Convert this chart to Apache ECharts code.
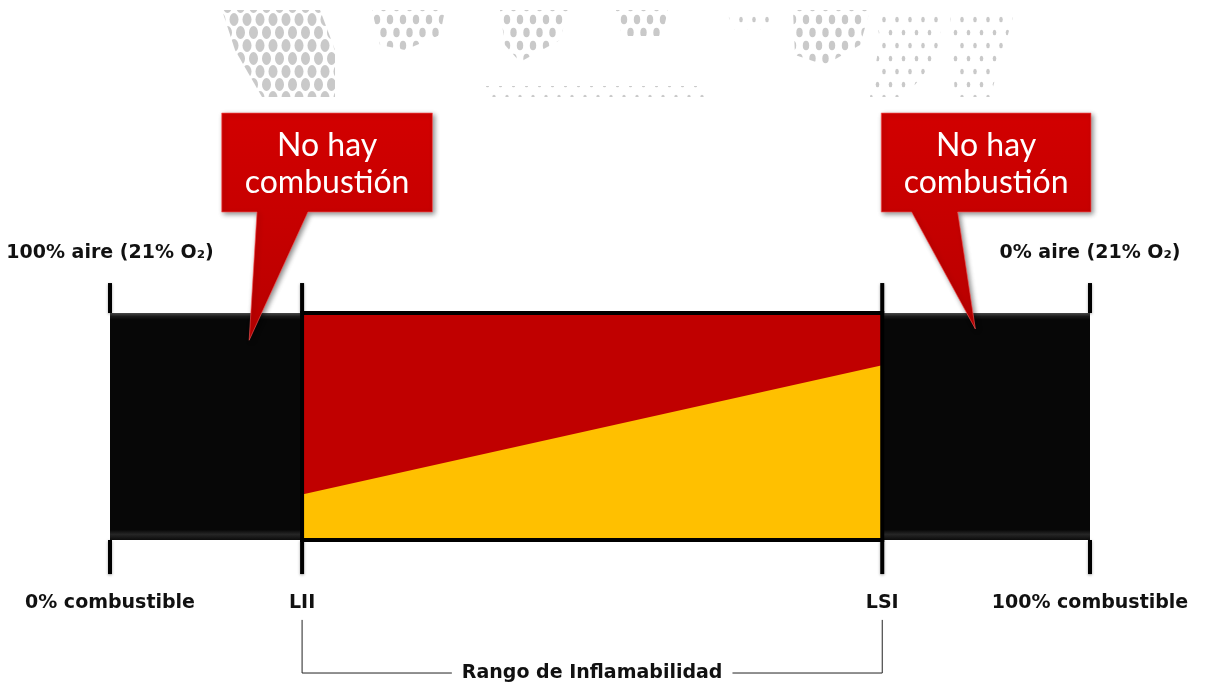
<!DOCTYPE html>
<html><head><meta charset="utf-8">
<script src="https://cdn.jsdelivr.net/npm/echarts@6/dist/echarts.min.js"></script>
<style>html,body{margin:0;padding:0;background:#fff}#c{width:1207px;height:684px}</style>
</head><body><div id="c"></div><script>
// ---- data ----
const tickPositions = [0, 19.6, 78.8, 100];
const tickLabels = ['0% combustible', 'LII', 'LSI', '100% combustible'];
const topLabelPositions = [0, 100];
const topLabels = ['100% aire (21% O₂)', '0% aire (21% O₂)'];
const zoneStart = [0, 19.6, 78.8];
const zoneEnd = [19.6, 78.8, 100];
const zoneKind = ['none', 'range', 'none'];
const flamX = [19.6, 78.8];
const flamY = [0.20, 0.77];
const rangeLabel = 'Rango de Inflamabilidad';
const calloutText = 'No hay\ncombustión';
const calloutTipX = [14.2, 88.3];
const calloutTipY = [0.88, 0.93];

// ---- layout (annotation geometry, data units) ----
const calloutBoxX = [[11.4, 32.9], [78.7, 100.1]];
const calloutBoxY = [1.445, 1.881];
const calloutBase = [[15.0, 20.2], [81.8, 86.5]];
const tickTop = 1.132, tickBottom = -0.15;
const bracketTop = -0.352, bracketBottom = -0.586;

const RED = '#C00000', YELLOW = '#FFC000';

function dotPattern(rx, ry, step) {
  const c = document.createElement('canvas');
  c.width = step; c.height = step * 2;
  const g = c.getContext('2d');
  g.fillStyle = '#c9c9c9';
  const pts = [[step / 2, step / 2], [0, step * 1.5], [step, step * 1.5]];
  pts.forEach(p => { g.beginPath(); g.ellipse(p[0], p[1], rx, ry, 0, 0, Math.PI * 2); g.fill(); });
  return { image: c, repeat: 'repeat' };
}
const pBig = dotPattern(4.5, 6.5, 13), pMid = dotPattern(3.2, 4.8, 13), pSmall = dotPattern(1.8, 2.8, 13);
const clusters = [
  [[[222,10],[320,10],[335,50],[335,97],[262,97],[235,50]], pBig],
  [[[372,10],[445,10],[440,35],[405,50],[380,45]], pMid],
  [[[500,10],[568,10],[560,40],[520,62],[505,45]], pMid],
  [[[616,10],[668,10],[662,36],[622,36]], pMid],
  [[[726,10],[774,10],[768,30],[734,30]], pSmall],
  [[[793,10],[870,10],[860,45],[825,65],[795,55]], pMid],
  [[[875,10],[945,10],[935,60],[905,97],[870,97],[880,40]], pSmall],
  [[[950,10],[1015,10],[990,97],[955,97]], pSmall],
  [[[485,86],[705,86],[705,97],[485,97]], pSmall]
];

const chart = echarts.init(document.getElementById('c'));
const blackGrad = () => new echarts.graphic.LinearGradient(0, 0, 0, 1, [
  { offset: 0, color: '#4a4a4a' }, { offset: 0.015, color: '#1a1a1a' }, { offset: 0.03, color: '#070707' },
  { offset: 0.955, color: '#070707' }, { offset: 0.975, color: '#262626' }, { offset: 1, color: '#0c0c0c' }]);

const txtFont = 'DejaVu Sans';
chart.setOption({
  animation: false,
  backgroundColor: '#fff',
  grid: { left: 110, right: 117, top: 278.95, bottom: 109.95 },
  xAxis: [{
    type: 'value', min: 0, max: 100, position: 'bottom',
    axisLine: { show: false }, axisTick: { show: false }, splitLine: { show: false },
    axisLabel: {
      customValues: tickPositions, margin: 20,
      formatter: v => tickLabels[tickPositions.indexOf(v)],
      fontFamily: txtFont, fontWeight: 'bold', fontSize: 19, color: '#111'
    }
  }, {
    type: 'value', min: 0, max: 100, position: 'top',
    axisLine: { show: false }, axisTick: { show: false }, splitLine: { show: false },
    axisLabel: {
      customValues: topLabelPositions, margin: 16,
      formatter: v => topLabels[topLabelPositions.indexOf(v)],
      fontFamily: txtFont, fontWeight: 'bold', fontSize: 19, color: '#111'
    }
  }],
  yAxis: { type: 'value', min: tickBottom, max: 1.15, show: false, splitLine: { show: false } },
  graphic: clusters.map(c => ({
    type: 'polygon', silent: true, z: 0,
    shape: { points: c[0] }, style: { fill: c[1] }
  })),
  series: [
    { // zones
      type: 'custom', clip: false, z: 2,
      data: zoneStart.map((s, i) => [s, zoneEnd[i], i]),
      renderItem: (params, api) => {
        const i = api.value(2);
        const p0 = api.coord([api.value(0), 1]);
        const p1 = api.coord([api.value(1), 0]);
        return {
          type: 'rect',
          shape: { x: p0[0], y: p0[1], width: p1[0] - p0[0], height: p1[1] - p0[1] },
          style: { fill: zoneKind[i] === 'range' ? RED : blackGrad() }
        };
      }
    },
    { // flammable (yellow) area
      type: 'custom', clip: false, z: 3,
      data: [[flamX[0], flamY[0], flamX[1], flamY[1]]],
      renderItem: (params, api) => {
        const a = api.coord([api.value(0), 0]), b = api.coord([api.value(0), api.value(1)]);
        const c = api.coord([api.value(2), api.value(3)]), d = api.coord([api.value(2), 0]);
        const t0 = api.coord([api.value(0), 1]);
        return {
          type: 'group', children: [
            { type: 'polygon', shape: { points: [a, b, c, d] }, style: { fill: YELLOW } },
            { type: 'rect', shape: { x: t0[0], y: t0[1], width: d[0] - t0[0], height: a[1] - t0[1] },
              style: { fill: 'none', stroke: '#000', lineWidth: 4 } }
          ]
        };
      }
    },
    { // ticks
      type: 'custom', clip: false, z: 4,
      data: tickPositions.map(v => [v]),
      renderItem: (params, api) => {
        const x = api.value(0);
        const a = api.coord([x, tickTop]), b = api.coord([x, 1]);
        const c = api.coord([x, 0]), d = api.coord([x, tickBottom]);
        const st = { stroke: '#000', lineWidth: 4, shadowBlur: 3, shadowColor: 'rgba(0,0,0,0.35)', shadowOffsetY: 1 };
        return { type: 'group', children: [
          { type: 'line', shape: { x1: a[0], y1: a[1], x2: b[0], y2: b[1] }, style: st },
          { type: 'line', shape: { x1: c[0], y1: c[1], x2: d[0], y2: d[1] }, style: st }
        ] };
      }
    },
    { // range bracket
      type: 'custom', clip: false, z: 4,
      data: [[tickPositions[1], tickPositions[2]]],
      renderItem: (params, api) => {
        const l = api.value(0), r = api.value(1);
        const p1 = api.coord([l, bracketTop]), p2 = api.coord([l, bracketBottom]);
        const p3 = api.coord([r, bracketBottom]), p4 = api.coord([r, bracketTop]);
        return { type: 'group', children: [
          { type: 'polyline', shape: { points: [p1, p2, p3, p4] }, style: { stroke: '#222', lineWidth: 1, fill: 'none' } },
          { type: 'text', x: (p2[0] + p3[0]) / 2, y: p2[1],
            style: { text: rangeLabel, fill: '#111', fontFamily: txtFont, fontWeight: 'bold', fontSize: 19,
              align: 'center', verticalAlign: 'middle', backgroundColor: '#fff', padding: [2, 10] } }
        ] };
      }
    },
    { // callouts
      type: 'custom', clip: false, z: 6,
      data: calloutTipX.map((x, i) => [x, calloutTipY[i], i]),
      renderItem: (params, api) => {
        const i = api.value(2);
        const bx = calloutBoxX[i], bb = calloutBase[i];
        const tl = api.coord([bx[0], calloutBoxY[1]]), tr = api.coord([bx[1], calloutBoxY[1]]);
        const br = api.coord([bx[1], calloutBoxY[0]]), bl = api.coord([bx[0], calloutBoxY[0]]);
        const b1 = api.coord([bb[1], calloutBoxY[0]]), b0 = api.coord([bb[0], calloutBoxY[0]]);
        const tip = api.coord([api.value(0), api.value(1)]);
        const fill = new echarts.graphic.LinearGradient(0, 0, 0, 1, [
          { offset: 0, color: '#D20000' }, { offset: 0.5, color: '#C60000' }, { offset: 1, color: '#B80000' }]);
        return { type: 'group', children: [
          { type: 'polygon', shape: { points: [tl, tr, br, b1, tip, b0, bl] },
            style: { fill: fill, stroke: 'rgba(255,90,90,0.6)', lineWidth: 1,
              shadowBlur: 5, shadowColor: 'rgba(0,0,0,0.45)', shadowOffsetX: 2, shadowOffsetY: 2 } },
          { type: 'text', x: (tl[0] + tr[0]) / 2, y: (tl[1] + bl[1]) / 2 + 2,
            style: { text: calloutText, fill: '#fff', fontFamily: 'Lato', fontSize: 32, lineHeight: 37,
              align: 'center', verticalAlign: 'middle' } }
        ] };
      }
    }
  ]
});
</script></body></html>
